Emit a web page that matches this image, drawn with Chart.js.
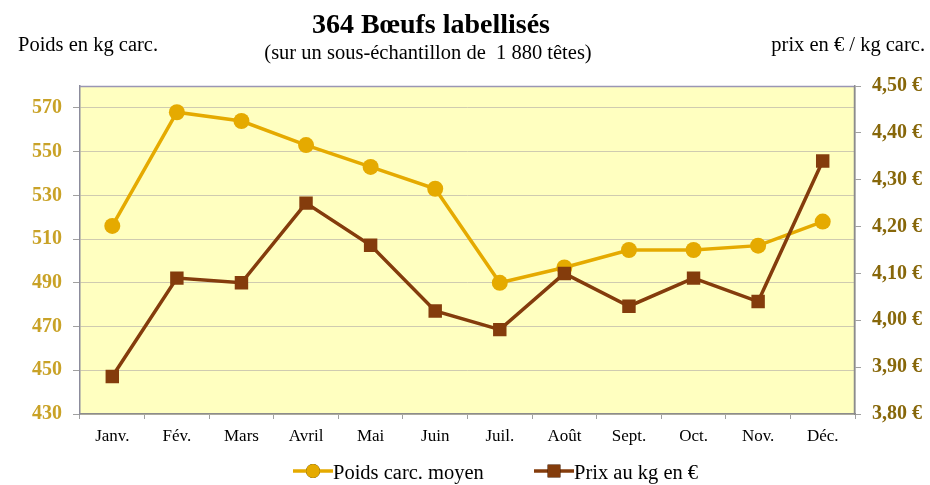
<!DOCTYPE html>
<html>
<head>
<meta charset="utf-8">
<script src="https://cdn.jsdelivr.net/npm/chart.js@4/dist/chart.umd.min.js"></script>
<style>
  html, body { margin: 0; padding: 0; background: #ffffff; }
  #wrap { width: 930px; height: 485px; position: relative; }
</style>
</head>
<body>
<div id="wrap"><canvas id="c" width="930" height="485"></canvas></div>
<script>
// Monthly data
const months = ['Janv.', 'Fév.', 'Mars', 'Avril', 'Mai', 'Juin', 'Juil.', 'Août', 'Sept.', 'Oct.', 'Nov.', 'Déc.'];
const poidsCarc = [516, 568, 564, 553, 543, 533, 490, 497, 505, 505, 507, 518];
const prixKg = [3.88, 4.09, 4.08, 4.25, 4.16, 4.02, 3.98, 4.10, 4.03, 4.09, 4.04, 4.34];

// Axis ticks
const poidsTicks = [430, 450, 470, 490, 510, 530, 550, 570];
const prixTicks = [3.8, 3.9, 4.0, 4.1, 4.2, 4.3, 4.4, 4.5];

const SERIF = '"Liberation Serif", "DejaVu Serif", serif';
const GOLD = '#e5aa00';
const BROWN = '#843c0c';

// Plot background, frame, titles and legend
const decor = {
  id: 'decor',
  beforeDraw(chart) {
    const { ctx, chartArea: a } = chart;
    ctx.save();
    ctx.fillStyle = '#ffffc0';
    ctx.fillRect(a.left, a.top, a.right - a.left, a.bottom - a.top);
    ctx.restore();
  },
  afterDraw(chart) {
    const { ctx, chartArea: a } = chart;
    ctx.save();
    // frame
    ctx.strokeStyle = '#9a96b4';
    ctx.lineWidth = 1.5;
    ctx.beginPath();
    ctx.moveTo(a.left, a.top + 0.5);
    ctx.lineTo(a.right, a.top + 0.5);
    ctx.stroke();
    ctx.strokeStyle = '#8c8c8c';
    ctx.beginPath();
    ctx.moveTo(a.right - 0.5, a.top);
    ctx.lineTo(a.right - 0.5, a.bottom);
    ctx.stroke();

    // titles
    ctx.fillStyle = '#000';
    ctx.textBaseline = 'alphabetic';
    ctx.textAlign = 'center';
    ctx.font = 'bold 28px ' + SERIF;
    ctx.fillText('364 Bœufs labellisés', 431, 33);
    ctx.font = '20.5px ' + SERIF;
    ctx.fillText('(sur un sous-échantillon de  1 880 têtes)', 428, 59);
    ctx.textAlign = 'left';
    ctx.fillText('Poids en kg carc.', 18, 51);
    ctx.textAlign = 'right';
    ctx.fillText('prix en € / kg carc.', 925, 51);

    // legend
    const ly = 471;
    const items = [
      { x: 293, label: 'Poids carc. moyen', ds: chart.data.datasets[0] },
      { x: 534, label: 'Prix au kg en €', ds: chart.data.datasets[1] }
    ];
    items.forEach(it => {
      ctx.strokeStyle = it.ds.borderColor;
      ctx.lineWidth = 3.5;
      ctx.beginPath();
      ctx.moveTo(it.x, ly);
      ctx.lineTo(it.x + 40, ly);
      ctx.stroke();
      Chart.helpers.drawPoint(ctx, {
        pointStyle: it.ds.pointStyle,
        radius: it.ds.pointStyle === 'rect' ? 9 : 7,
        borderWidth: 0,
        rotation: 0
      }, it.x + 20, ly);
      ctx.fillStyle = it.ds.pointBackgroundColor;
      ctx.fill();
      ctx.fillStyle = '#000';
      ctx.textAlign = 'left';
      ctx.font = '20.5px ' + SERIF;
      ctx.fillText(it.label, it.x + 40, ly + 8);
    });
    ctx.restore();
  }
};

new Chart(document.getElementById('c'), {
  type: 'line',
  data: {
    labels: months,
    datasets: [
      {
        label: 'Poids carc. moyen',
        data: poidsCarc,
        yAxisID: 'yPoids',
        borderColor: GOLD,
        backgroundColor: GOLD,
        pointBackgroundColor: GOLD,
        pointBorderColor: GOLD,
        pointStyle: 'circle',
        pointRadius: 8,
        pointBorderWidth: 0,
        borderWidth: 3.5,
        tension: 0,
        order: 1
      },
      {
        label: 'Prix au kg en €',
        data: prixKg,
        yAxisID: 'yPrix',
        borderColor: BROWN,
        backgroundColor: BROWN,
        pointBackgroundColor: BROWN,
        pointBorderColor: BROWN,
        pointStyle: 'rect',
        pointRadius: 9.5,
        pointBorderWidth: 0,
        borderWidth: 3.5,
        tension: 0,
        order: 0
      }
    ]
  },
  options: {
    responsive: false,
    animation: false,
    layout: { padding: { left: 0, right: 0, top: 86, bottom: 0 } },
    plugins: {
      legend: { display: false },
      title: { display: false },
      tooltip: { enabled: false }
    },
    scales: {
      x: {
        offset: true,
        grid: {
          offset: true,
          drawOnChartArea: false,
          tickLength: 5,
          color: '#a0a0a0'
        },
        border: { color: '#8c8c8c', width: 1.5 },
        ticks: {
          color: '#000',
          padding: 7,
          font: { family: SERIF, size: 17 },
          maxRotation: 0
        },
        afterFit(s) { s.height = 71; }
      },
      yPoids: {
        position: 'left',
        min: 430,
        max: 580,
        afterBuildTicks(s) { s.ticks = poidsTicks.map(v => ({ value: v })); },
        grid: {
          color: '#cfcbb0',
          lineWidth: 1,
          tickLength: 7,
          tickColor: '#a0a0a0'
        },
        border: { color: '#8c8c9c', width: 1.5 },
        ticks: {
          color: '#c9a227',
          padding: 11,
          font: { family: SERIF, size: 20, weight: 'bold' }
        },
        afterFit(s) { s.width = 80; }
      },
      yPrix: {
        position: 'right',
        min: 3.8,
        max: 4.5,
        afterBuildTicks(s) { s.ticks = prixTicks.map(v => ({ value: v })); },
        grid: {
          drawOnChartArea: false,
          tickLength: 6,
          color: '#a0a0a0'
        },
        border: { color: '#8c8c8c', width: 1.5 },
        ticks: {
          color: '#87670a',
          padding: 11,
          font: { family: SERIF, size: 20, weight: 'bold' },
          callback: v => v.toFixed(2).replace('.', ',') + ' €'
        },
        afterFit(s) { s.width = 75; }
      }
    }
  },
  plugins: [decor]
});
</script>
</body>
</html>
